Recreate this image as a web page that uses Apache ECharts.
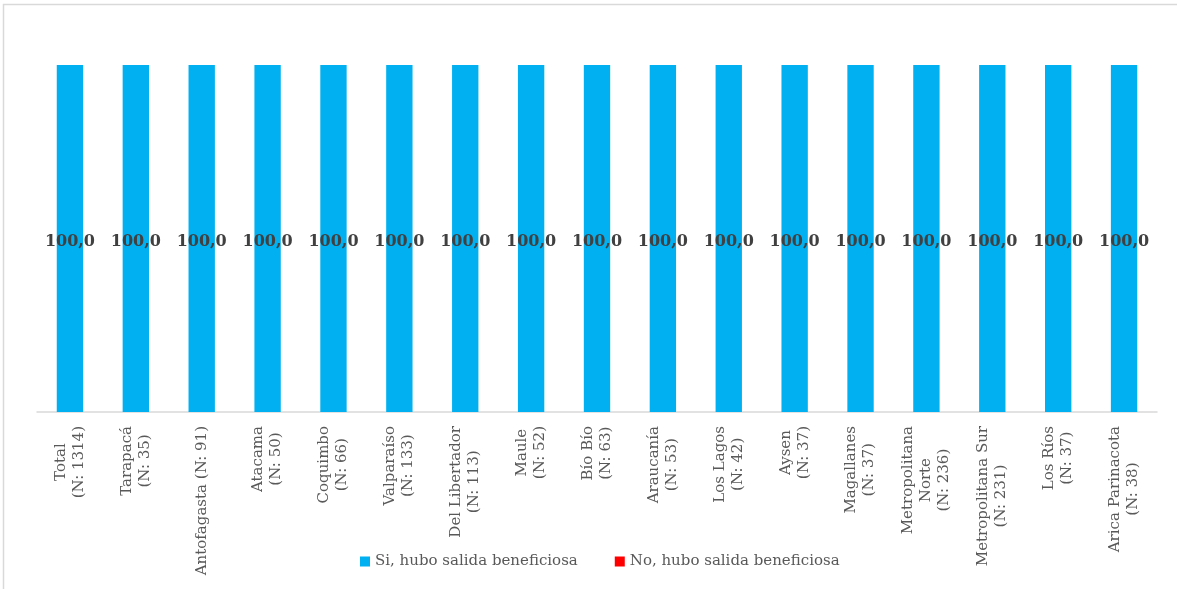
<!DOCTYPE html>
<html>
<head>
<meta charset="utf-8">
<script src="https://cdn.jsdelivr.net/npm/echarts@6/dist/echarts.min.js"></script>
<style>
  html, body { margin: 0; padding: 0; background: #fff; }
  #chart { width: 1177px; height: 589px; }
</style>
</head>
<body>
<div id="chart"></div>
<script>
// 类别（带样本量，换行与原图一致）
const categories = [
  'Total\n(N: 1314)',
  'Tarapacá\n(N: 35)',
  'Antofagasta (N: 91)',
  'Atacama\n(N: 50)',
  'Coquimbo\n(N: 66)',
  'Valparaíso\n(N: 133)',
  'Del Libertador\n(N: 113)',
  'Maule\n(N: 52)',
  'Bío Bío\n(N: 63)',
  'Araucanía\n(N: 53)',
  'Los Lagos\n(N: 42)',
  'Aysen\n(N: 37)',
  'Magallanes\n(N: 37)',
  'Metropolitana\nNorte\n(N: 236)',
  'Metropolitana Sur\n(N: 231)',
  'Los Ríos\n(N: 37)',
  'Arica Parinacota\n(N: 38)'
];
const seriesNames = ['Si, hubo salida beneficiosa', 'No, hubo salida beneficiosa'];
const siValues = [100, 100, 100, 100, 100, 100, 100, 100, 100, 100, 100, 100, 100, 100, 100, 100, 100];
const noValues = [0, 0, 0, 0, 0, 0, 0, 0, 0, 0, 0, 0, 0, 0, 0, 0, 0];

const FONT = 'DejaVu Serif';

const chart = echarts.init(document.getElementById('chart'));

// 每行居中：用 rich 的 align
function centerLines(v) {
  return v.split('\n').map(s => '{c|' + s + '}').join('\n');
}

chart.setOption({
  animation: false,
  color: ['#00B0F0', '#FF0000'],
  graphic: [{
    type: 'rect',
    shape: { x: 3.5, y: 4.5, width: 1300, height: 700 },
    style: { fill: 'none', stroke: '#d9d9d9', lineWidth: 1.5 },
    silent: true
  }],
  grid: { left: 37, right: 20, top: 65, bottom: 177 },
  legend: {
    data: seriesNames,
    left: 355,
    top: 549,
    itemWidth: 10,
    itemHeight: 10,
    itemGap: 37,
    icon: 'rect',
    textStyle: { fontFamily: FONT, fontSize: 15, color: '#595959' }
  },
  xAxis: {
    type: 'category',
    data: categories,
    axisLine: { lineStyle: { color: '#d9d9d9', width: 1.5 } },
    axisTick: { show: false },
    axisLabel: {
      interval: 0,
      rotate: 90,
      margin: 14,
      formatter: centerLines,
      rich: {
        c: { align: 'center', fontFamily: FONT, fontSize: 15, color: '#595959', lineHeight: 18 }
      }
    }
  },
  yAxis: {
    type: 'value',
    min: 0,
    max: 100,
    show: false,
    splitLine: { show: false }
  },
  series: [
    {
      name: seriesNames[0],
      type: 'bar',
      stack: 'total',
      data: siValues,
      barWidth: '40%',
      label: {
        show: true,
        position: 'inside',
        offset: [0, 3],
        formatter: p => p.value.toFixed(1).replace('.', ','),
        fontFamily: FONT,
        fontWeight: 'bold',
        fontSize: 16,
        color: '#404040'
      }
    },
    {
      name: seriesNames[1],
      type: 'bar',
      stack: 'total',
      data: noValues,
      barWidth: '40%'
    }
  ]
});
</script>
</body>
</html>
